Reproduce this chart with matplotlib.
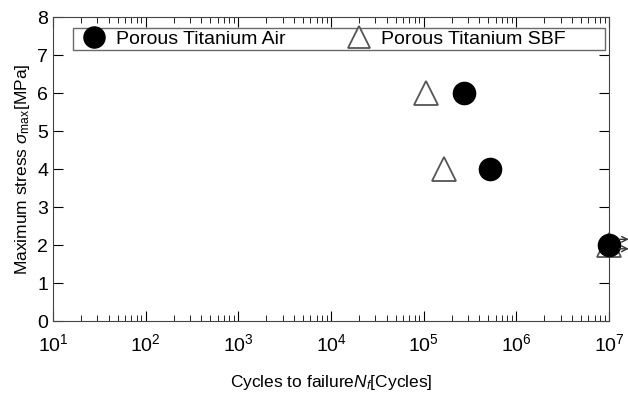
import matplotlib.pyplot as plt
import numpy as np
from matplotlib.ticker import NullFormatter

plt.rcParams['font.family'] = ['Liberation Sans', 'DejaVu Sans']
plt.rcParams['mathtext.fontset'] = 'custom'
plt.rcParams['mathtext.rm'] = 'Liberation Sans'
plt.rcParams['mathtext.it'] = 'Liberation Sans:italic'

# S-N data
air_cycles = [2.7e5, 5.2e5, 1.0e7]
air_stress = [6, 4, 2]
sbf_cycles = [1.05e5, 1.65e5, 1.0e7]
sbf_stress = [6, 4, 2]

fig = plt.figure(figsize=(6.28, 3.94), dpi=100)
ax = fig.add_axes([53/628, 1-321/394, 556/628, 304/394])

ax.plot(sbf_cycles, sbf_stress, '^', ms=17, mfc='white', mec='#555555', mew=1.3,
        ls='none', label='Porous Titanium SBF' + ' ' * 7, clip_on=False, zorder=3)
ax.plot(air_cycles, air_stress, 'o', ms=16, color='black',
        ls='none', label='Porous Titanium Air', clip_on=False, zorder=4)

# run-out arrows
for yy in (2.15, 1.9):
    ax.annotate('', xy=(1.75e7, yy), xytext=(1.2e7, yy),
                arrowprops=dict(arrowstyle='->', lw=1, color='#333333'),
                annotation_clip=False, zorder=5)

ax.set_xscale('log')
ax.set_xlim(10, 1e7)
ax.set_ylim(0, 8)
ax.set_yticks(np.arange(0, 9, 1))
ax.xaxis.set_minor_formatter(NullFormatter())
ax.tick_params(which='both', direction='in', top=True, right=True, labelsize=14)
ax.tick_params(which='major', length=7)
ax.tick_params(which='minor', length=4)
ax.tick_params(axis='x', pad=9)
for s in ax.spines.values():
    s.set_color('#444444')

ax.set_xlabel('Cycles to failure$\\it{N_f}$[Cycles]', fontsize=12.5, labelpad=13)
ax.set_ylabel('Maximum stress $\\sigma_{\\mathrm{max}}$[MPa]', fontsize=12.5)

h, l = ax.get_legend_handles_labels()
leg = ax.legend(h[::-1], l[::-1], ncol=2, loc='upper left',
                bbox_to_anchor=(19.5/556, 1 - 11/304),
                borderaxespad=0, fontsize=14, frameon=True, fancybox=False,
                edgecolor='#444444', handletextpad=0.15, borderpad=0.1,
                columnspacing=2.75, markerscale=0.95)

fig.savefig('out.png', dpi=100)
